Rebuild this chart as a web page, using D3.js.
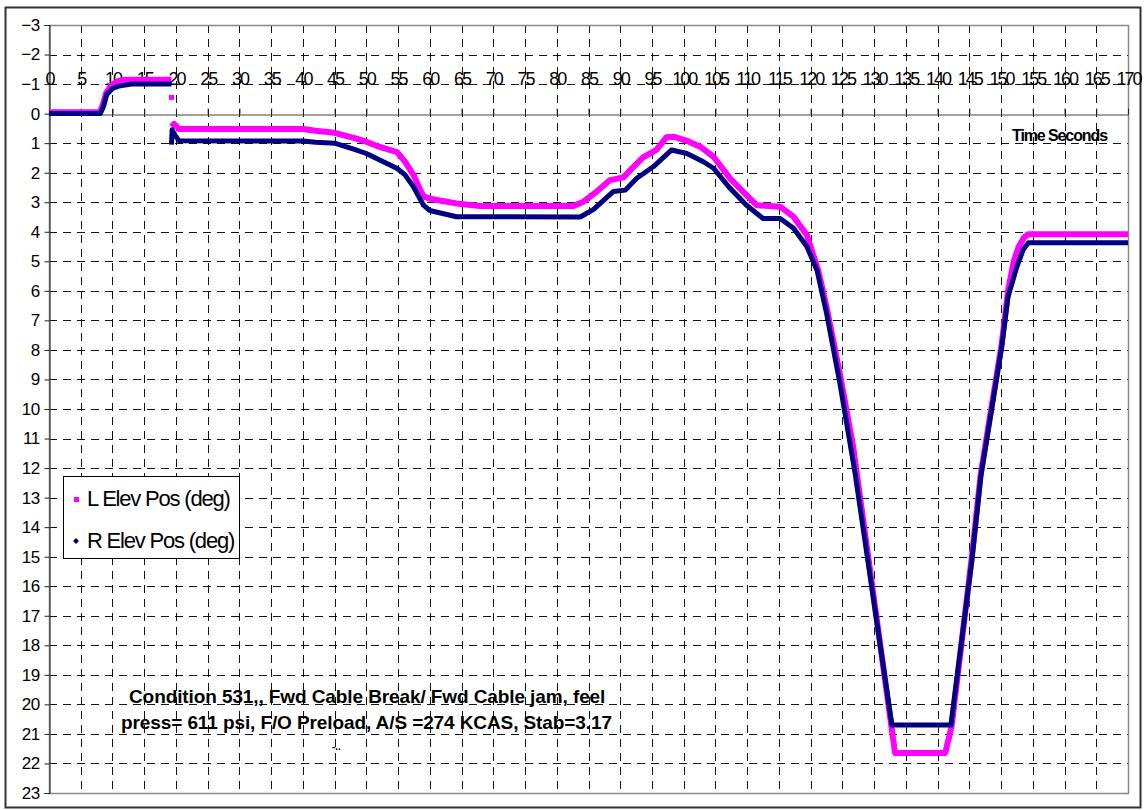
<!DOCTYPE html>
<html>
<head>
<meta charset="utf-8">
<script src="https://cdn.jsdelivr.net/npm/d3@7"></script>
<style>
  body { margin: 0; background: #fff; }
  svg { display: block; font-family: "Liberation Sans", Arial, sans-serif; }
</style>
</head>
<body>
<svg id="chart"></svg>
<script>
// tick values
const timeTicks = [0, 5, 10, 15, 20, 25, 30, 35, 40, 45, 50, 55, 60, 65, 70, 75, 80, 85,
  90, 95, 100, 105, 110, 115, 120, 125, 130, 135, 140, 145, 150, 155, 160, 165, 170];
const posTicks = [-3, -2, -1, 0, 1, 2, 3, 4, 5, 6, 7, 8, 9, 10, 11, 12, 13, 14, 15, 16,
  17, 18, 19, 20, 21, 22, 23];

// L Elev Pos (deg) - null splits the trace at the jump near 19 s
const lTime = [0, 8.0, 8.5, 9.0, 9.8, 10.8, 12, 19.3, null,
  19.35, 19.7, 20.5, 40, 42, 45, 48, 50, 52, 54.8, 56, 57.5, 58.3, 59, 60, 62, 64.2, 67.9,
  82.6, 84.2, 86.3, 88.4, 90.5, 92.1, 93.6, 95.7, 97.3, 98.4, 100.5, 102.6, 104.7, 107.3,
  109.9, 111.5, 115.2, 117.3, 119.4, 121.2, 122.5, 124.6, 126.7, 133.3, 141.2, 142.2,
  145.4, 146.8, 150.1, 151.1, 152.0, 152.8, 153.6, 154.3, 170];
const lPos = [-0.05, -0.05, -0.3, -0.7, -0.95, -1.1, -1.15, -1.15, null,
  0.45, 0.35, 0.52, 0.52, 0.58, 0.65, 0.82, 0.95, 1.12, 1.3, 1.6, 2.1, 2.5, 2.8, 2.88, 2.96, 3.04, 3.13,
  3.13, 2.98, 2.64, 2.25, 2.16, 1.8, 1.48, 1.23, 0.8, 0.78, 0.92, 1.12, 1.46, 2.19,
  2.76, 3.1, 3.15, 3.49, 4.11, 5.3, 6.54, 8.8, 11.28, 21.65, 21.65, 20.76,
  15.0, 12.2, 7.8, 6.0, 5.0, 4.5, 4.2, 4.08, 4.08];
const lStrayTime = [19.3];
const lStrayPos = [-0.55];

// R Elev Pos (deg)
const rTime = [0, 8.1, 8.6, 9.1, 10, 11, 13, 19.3, null,
  19.3, 19.4, 19.9, 20.5, 40, 42, 45, 48, 50, 52.1, 54.8, 56, 57.4, 59, 60, 62, 64.2,
  83.7, 85.8, 88.9, 90.8, 92.6, 95.2, 98.1, 100.5, 103.1, 104.7, 107.3, 109.9, 112.5,
  115.2, 117.3, 119.4, 121, 122.5, 124.6, 127, 132.8, 142.1, 145.4, 146.8, 150.1, 151.1,
  152.5, 153.5, 154.3, 170];
const rPos = [0, 0, -0.25, -0.65, -0.85, -0.93, -1.0, -1.0, null,
  1.05, 0.55, 0.75, 0.92, 0.93, 0.97, 1.0, 1.2, 1.35, 1.57, 1.85, 2.05, 2.47, 3.1, 3.28, 3.38, 3.49,
  3.5, 3.24, 2.64, 2.59, 2.19, 1.8, 1.23, 1.35, 1.63, 1.85, 2.53, 3.1, 3.55,
  3.55, 3.88, 4.5, 5.3, 6.75, 9.12, 12.17, 20.7, 20.7, 15.12, 12.3, 7.9, 6.2,
  5.18, 4.6, 4.37, 4.37];

const seriesNames = ["L Elev Pos (deg)", "R Elev Pos (deg)"];
const seriesColors = ["#ff00ff", "#000080"];

const noteLines = [
  "Condition 531,, Fwd Cable Break/ Fwd Cable jam, feel",
  "press= 611 psi, F/O Preload, A/S =274 KCAS, Stab=3.17"
];

const width = 1148, height = 810;
const plot = { left: 49, top: 25, right: 1128, bottom: 793 };

const svg = d3.select("#chart")
  .attr("width", width)
  .attr("height", height);

// outer chart frame
svg.append("rect")
  .attr("x", 5.5).attr("y", 7.5)
  .attr("width", 1135).attr("height", 800)
  .attr("fill", "#fff")
  .attr("stroke", "#333")
  .attr("stroke-width", 2);

const x = d3.scaleLinear()
  .domain([0, 170])
  .range([plot.left, plot.right]);

const y = d3.scaleLinear()
  .domain([-3, 23])
  .range([plot.top, plot.bottom]);

// dashed grid
svg.append("g")
  .selectAll("line")
  .data(posTicks.filter(d => d > -3 && d < 23 && d !== 0))
  .enter()
  .append("line")
  .attr("x1", plot.left).attr("x2", plot.right)
  .attr("y1", d => Math.round(y(d)) + 0.5)
  .attr("y2", d => Math.round(y(d)) + 0.5)
  .attr("stroke", "#111")
  .attr("stroke-dasharray", "8,6");

svg.append("g")
  .selectAll("line")
  .data(timeTicks.filter(d => d > 0 && d < 170))
  .enter()
  .append("line")
  .attr("x1", d => Math.round(x(d)) + 0.5)
  .attr("x2", d => Math.round(x(d)) + 0.5)
  .attr("y1", plot.top).attr("y2", plot.bottom)
  .attr("stroke", "#111")
  .attr("stroke-dasharray", "8,6");

// plot area border
svg.append("rect")
  .attr("x", plot.left + 0.5).attr("y", plot.top + 0.5)
  .attr("width", plot.right - plot.left).attr("height", plot.bottom - plot.top)
  .attr("fill", "none")
  .attr("stroke", "#888")
  .attr("stroke-width", 1.5);

// y axis
const yAxis = svg.append("g")
  .attr("transform", `translate(${plot.left + 0.5},0)`)
  .call(d3.axisLeft(y).tickValues(posTicks).tickSize(5).tickPadding(5).tickFormat(d3.format("d")));
yAxis.select(".domain").attr("stroke", "#222");
yAxis.selectAll(".tick line").attr("stroke", "#222");
yAxis.selectAll("text")
  .attr("font-size", 17)
  .attr("letter-spacing", -0.6)
  .attr("fill", "#000")
  .style("font-family", "'Liberation Sans', Arial, sans-serif");

// x axis sits on zero, labels float above it
const xAxis = svg.append("g")
  .attr("transform", `translate(0,${Math.round(y(0)) + 0.5})`)
  .call(d3.axisTop(x).tickValues(timeTicks).tickSize(6).tickSizeOuter(0).tickPadding(24));
xAxis.select(".domain").attr("stroke", "#444").attr("stroke-width", 1.2);
xAxis.selectAll(".tick line").attr("stroke", "#222");
xAxis.selectAll("text")
  .attr("font-size", 18)
  .attr("letter-spacing", -2)
  .attr("fill", "#000")
  .style("font-family", "'Liberation Sans', Arial, sans-serif");

svg.append("text")
  .attr("x", 1012)
  .attr("y", 141)
  .attr("font-size", 16)
  .attr("font-weight", "bold")
  .attr("letter-spacing", -1.1)
  .text("Time Seconds");

// traces
const lData = lTime.map((t, i) => [t, lPos[i]]);
const rData = rTime.map((t, i) => [t, rPos[i]]);

const line = d3.line()
  .defined(d => d[0] !== null && d[1] !== null)
  .x(d => x(d[0]))
  .y(d => y(d[1]));

svg.append("path")
  .datum(lData)
  .attr("d", line)
  .attr("fill", "none")
  .attr("stroke", seriesColors[0])
  .attr("stroke-width", 6)
  .attr("stroke-linejoin", "round");

svg.selectAll(".stray")
  .data(lStrayTime.map((t, i) => [t, lStrayPos[i]]))
  .enter()
  .append("rect")
  .attr("class", "stray")
  .attr("x", d => x(d[0]) - 2.5)
  .attr("y", d => y(d[1]) - 2.5)
  .attr("width", 5).attr("height", 5)
  .attr("fill", seriesColors[0]);

svg.append("path")
  .datum(rData)
  .attr("d", line)
  .attr("fill", "none")
  .attr("stroke", seriesColors[1])
  .attr("stroke-width", 5)
  .attr("stroke-linejoin", "round");

// legend
const legend = svg.append("g");
legend.append("rect")
  .attr("x", 63.5).attr("y", 476.5)
  .attr("width", 176).attr("height", 82)
  .attr("fill", "#fff")
  .attr("stroke", "#000");

legend.append("rect")
  .attr("x", 74).attr("y", 497)
  .attr("width", 5).attr("height", 5)
  .attr("fill", seriesColors[0]);
legend.append("path")
  .attr("d", "M76,538 L79,541 L76,544 L73,541 Z")
  .attr("fill", seriesColors[1]);

legend.selectAll("text")
  .data(seriesNames)
  .enter()
  .append("text")
  .attr("x", 87)
  .attr("y", (d, i) => 506 + i * 42)
  .attr("font-size", 22)
  .attr("letter-spacing", -1.2)
  .text(d => d);

// annotation
svg.append("text")
  .attr("x", 129).attr("y", 703)
  .attr("font-size", 19).attr("font-weight", "bold")
  .attr("letter-spacing", -0.1)
  .text(noteLines[0]);
svg.append("text")
  .attr("x", 121).attr("y", 729)
  .attr("font-size", 19).attr("font-weight", "bold")
  .attr("letter-spacing", -0.1)
  .text(noteLines[1]);
svg.append("text")
  .attr("x", 332).attr("y", 750)
  .attr("font-size", 10).attr("font-weight", "bold")
  .text("-..");
</script>
</body>
</html>
